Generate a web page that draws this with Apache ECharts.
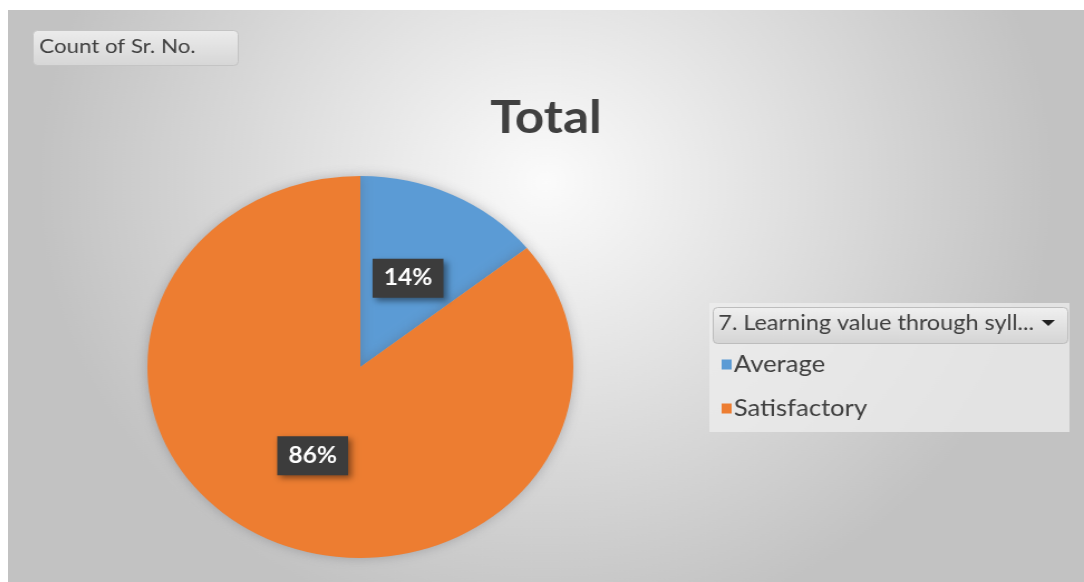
<!DOCTYPE html>
<html>
<head>
<meta charset="utf-8">
<script src="https://cdn.jsdelivr.net/npm/echarts@6/dist/echarts.min.js"></script>
<style>
  body { margin: 0; background: #fff; }
  #main {
    position: absolute; left: 8px; top: 10px;
    width: 965px; height: 572px;
    transform: scaleX(1.115); transform-origin: 0 0;
  }
</style>
</head>
<body>
<div id="main"></div>
<script>
// pivot table counts
var categories = ['Average', 'Satisfactory'];
var counts = [1, 6];
var colors = ['#5b9bd5', '#ed7d31'];
var fieldName = 'Count of Sr. No.';
var filterName = '7. Learning value through syll...';
var titleText = 'Total';

var font = 'Lato';
var chart = echarts.init(document.getElementById('main'));

var pieData = [];
for (var i = 0; i < categories.length; i++) {
  pieData.push({ name: categories[i], value: counts[i], itemStyle: { color: colors[i] } });
}

var option = {
  animation: false,
  backgroundColor: {
    type: 'radial', x: 0.5, y: 0.3, r: 0.8,
    colorStops: [{ offset: 0, color: '#fbfbfb' }, { offset: 1, color: '#c2c2c2' }]
  },
  title: {
    text: titleText, left: 'center', top: 80,
    textStyle: { fontFamily: font, fontSize: 46, fontWeight: 'bold', color: '#404040' }
  },
  legend: {
    orient: 'vertical', left: 640, top: 343, itemGap: 21, padding: 0,
    itemWidth: 9, itemHeight: 10, icon: 'rect',
    selectedMode: false,
    data: categories,
    textStyle: { fontFamily: font, fontSize: 23, color: '#404040', padding: [0, 0, 0, -3] }
  },
  graphic: [
    {
      type: 'rect', left: 22, top: 20, z: 1,
      shape: { width: 184, height: 35, r: 4 },
      style: {
        fill: { type: 'linear', x: 0, y: 0, x2: 0, y2: 1,
          colorStops: [{ offset: 0, color: '#ececec' }, { offset: 1, color: '#d6d6d6' }] },
        stroke: '#c4c4c4', lineWidth: 1
      }
    },
    {
      type: 'text', left: 28, top: 27, z: 2,
      style: { text: fieldName, fontFamily: font, fontSize: 20, fill: '#404040' }
    },
    {
      type: 'rect', left: 629, top: 293, z: 1,
      shape: { width: 323, height: 129 },
      style: { fill: 'rgba(238,238,238,0.75)' }
    },
    {
      type: 'rect', left: 632, top: 297, z: 2,
      shape: { width: 318, height: 36, r: 4 },
      style: {
        fill: { type: 'linear', x: 0, y: 0, x2: 0, y2: 1,
          colorStops: [{ offset: 0, color: '#f0f0f0' }, { offset: 1, color: '#d4d4d4' }] },
        stroke: '#bdbdbd', lineWidth: 1
      }
    },
    {
      type: 'text', left: 637, top: 303, z: 3,
      style: { text: filterName, fontFamily: font, fontSize: 21, fill: '#404040' }
    },
    {
      type: 'polygon', z: 3,
      shape: { points: [[927, 310], [939, 310], [933, 316]] },
      style: { fill: '#202020' }
    }
  ],
  series: [
    {
      type: 'pie',
      center: [316, 357],
      radius: 191,
      startAngle: 90,
      clockwise: true,
      percentPrecision: 0,
      emphasis: { disabled: true },
      itemStyle: { shadowBlur: 12, shadowColor: 'rgba(80,80,90,0.35)' },
      label: {
        show: true, position: 'inside', formatter: '{d}%',
        fontFamily: font, fontSize: 22, fontWeight: 'bold', color: '#ffffff',
        backgroundColor: '#3c3c3c', padding: [9, 10, 8, 10],
        shadowColor: 'rgba(0,0,0,0.45)', shadowBlur: 6, shadowOffsetX: 3, shadowOffsetY: 3
      },
      labelLine: { show: false },
      data: pieData
    }
  ]
};
chart.setOption(option);
</script>
</body>
</html>
